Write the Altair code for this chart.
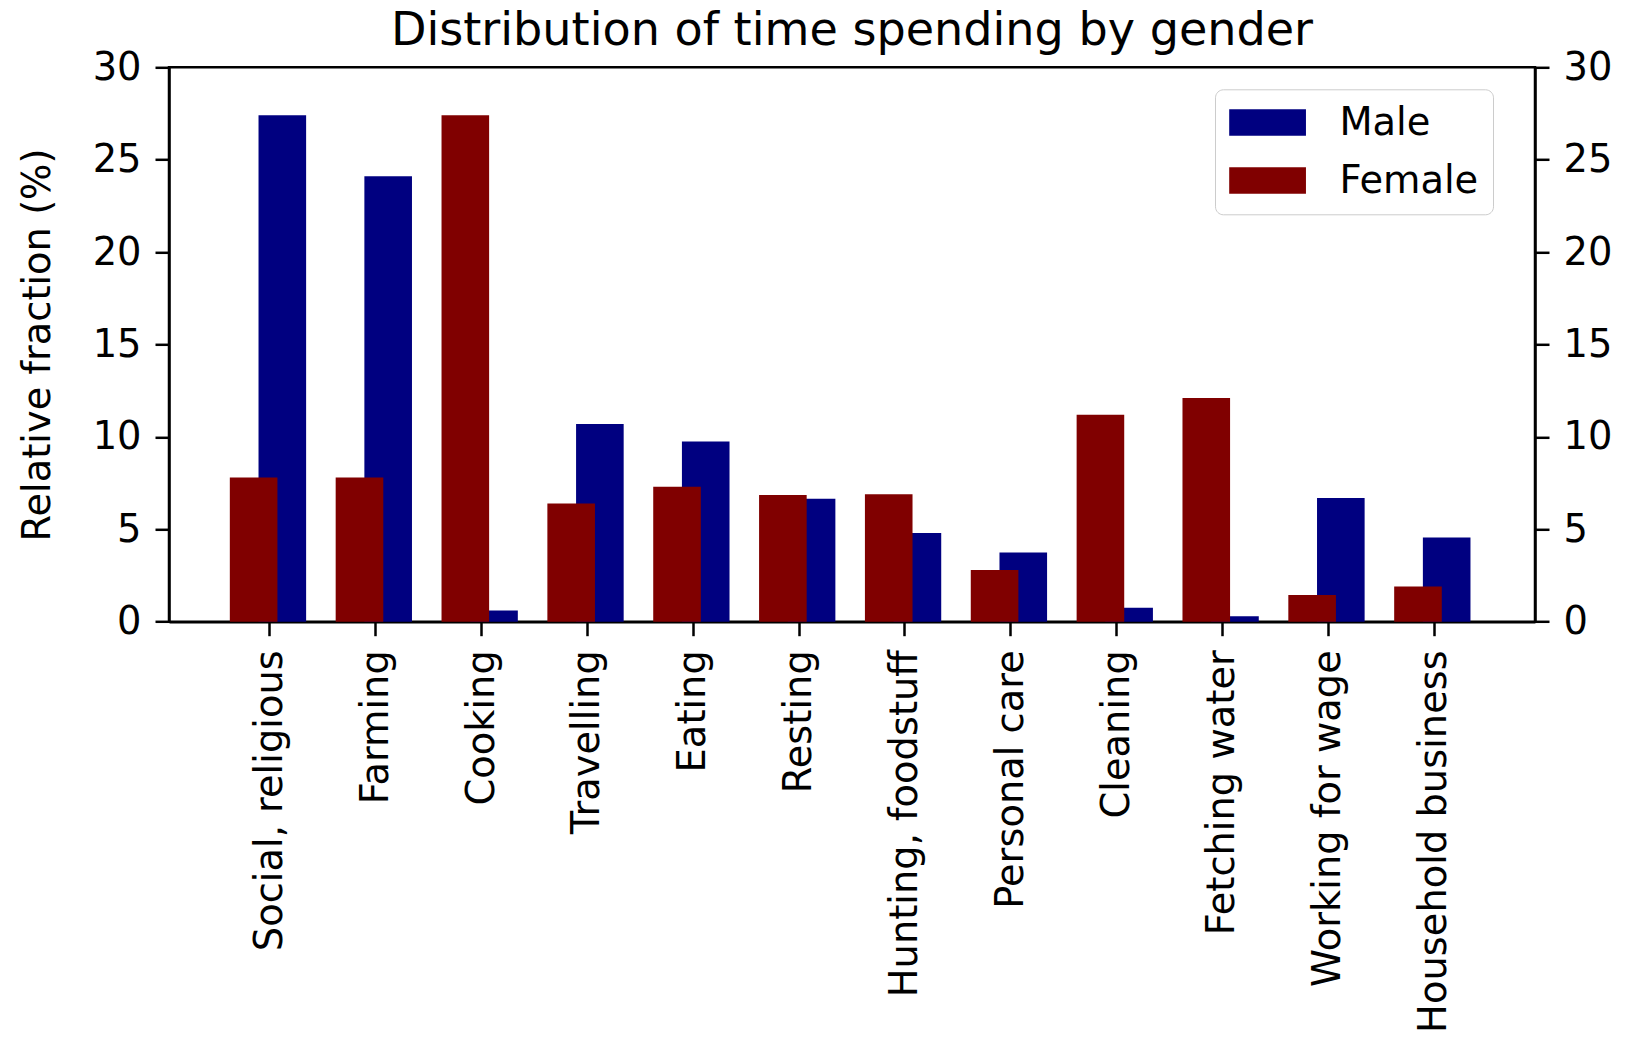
import altair as alt
import pandas as pd

# Activities and the share of time (%) each gender spends on them
activities = [
    "Social, religious", "Farming", "Cooking", "Travelling", "Eating",
    "Resting", "Hunting, foodstuff", "Personal care", "Cleaning",
    "Fetching water", "Working for wage", "Household business",
]
male = [27.4, 24.1, 0.6, 10.7, 9.75, 6.65, 4.8, 3.75, 0.75, 0.3, 6.7, 4.55]
female = [7.8, 7.8, 27.4, 6.4, 7.3, 6.85, 6.9, 2.8, 11.2, 12.1, 1.45, 1.9]

genders = ["Male", "Female"]
colors = ["#000080", "#800000"]
y_ticks = [0, 5, 10, 15, 20, 25, 30]

df = pd.DataFrame(
    [{"activity": a, "gender": "Male", "value": v} for a, v in zip(activities, male)]
    + [{"activity": a, "gender": "Female", "value": v} for a, v in zip(activities, female)]
)

FONT = "DejaVu Sans"
FS = 38.4

x_enc = alt.X(
    "activity:N",
    sort=activities,
    scale=alt.Scale(paddingInner=0, paddingOuter=0.4525),
    axis=alt.Axis(title=None, labelAngle=-90, labelPadding=14, labelLimit=1000),
)

# wide rectangular legend swatch, anchored at its left edge
swatch = "M-1,-0.7L3.04,-0.7L3.04,0.7L-1,0.7Z"

color_enc = alt.Color(
    "gender:N",
    scale=alt.Scale(domain=genders, range=colors),
    legend=alt.Legend(
        title=None,
        orient="none",
        legendX=1046,
        legendY=22,
        padding=14,
        fillColor="white",
        strokeColor="#cccccc",
        cornerRadius=8,
        symbolType=swatch,
        symbolSize=1444,
        symbolStrokeWidth=0,
        symbolOpacity=1,
        labelFont=FONT,
        labelFontSize=FS,
        labelColor="black",
        labelOffset=72,
        rowPadding=19,
        labelLimit=1000,
    ),
)

y_scale = alt.Scale(domain=[0, 30], nice=False)

male_bars = (
    alt.Chart(df)
    .transform_filter(alt.datum.gender == "Male")
    .mark_bar(width=47.6, xOffset=12.5)
    .encode(
        x=x_enc,
        y=alt.Y(
            "value:Q",
            scale=y_scale,
            axis=alt.Axis(
                orient="left",
                values=y_ticks,
                title="Relative fraction (%)",
                titlePadding=35,
                labelPadding=14,
            ),
        ),
        color=color_enc,
    )
)

female_bars = (
    alt.Chart(df)
    .transform_filter(alt.datum.gender == "Female")
    .mark_bar(width=47.6, xOffset=-16.2)
    .encode(
        x=x_enc,
        y=alt.Y(
            "value:Q",
            scale=y_scale,
            axis=alt.Axis(orient="right", values=y_ticks, title=None, labelPadding=14),
        ),
        color=color_enc,
    )
)

chart = (
    alt.layer(male_bars, female_bars)
    .resolve_axis(y="independent")
    .properties(
        width=1366,
        height=554.4,
        title=alt.TitleParams(
            "Distribution of time spending by gender",
            font=FONT,
            fontSize=46.1,
            fontWeight="normal",
            color="black",
            offset=4,
            dy=11,
        ),
        autosize=alt.AutoSizeParams(type="none"),
        padding={"left": 169, "top": 67.3, "right": 91, "bottom": 415.3},
        background="white",
    )
    .configure_view(stroke="black", strokeWidth=2.5)
    .configure_axis(
        grid=False,
        domainColor="black",
        domainWidth=2.5,
        tickColor="black",
        tickWidth=2.5,
        tickSize=14,
        labelFont=FONT,
        labelFontSize=FS,
        labelColor="black",
        titleFont=FONT,
        titleFontSize=FS,
        titleFontWeight="normal",
        titleColor="black",
    )
)

chart.save("out.html", embed_options={"renderer": "svg", "actions": False})
